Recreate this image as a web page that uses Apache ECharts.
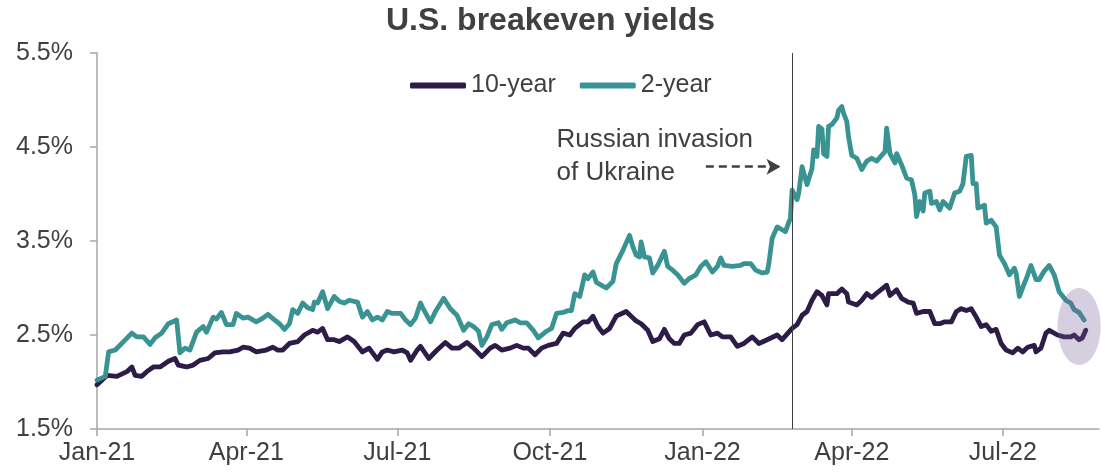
<!DOCTYPE html>
<html><head><meta charset="utf-8">
<script src="https://cdn.jsdelivr.net/npm/echarts@6/dist/echarts.min.js"></script>
<style>html,body{margin:0;padding:0;background:#fff}#c{width:1101px;height:474px}</style>
</head><body><div id="c"></div>
<script>
const tenYearDates = ['2021-01-01','2021-01-07','2021-01-13','2021-01-19','2021-01-22','2021-01-24','2021-01-28','2021-01-31','2021-02-04','2021-02-08','2021-02-13','2021-02-17','2021-02-19','2021-02-24','2021-02-28','2021-03-04','2021-03-09','2021-03-13','2021-03-18','2021-03-22','2021-03-27','2021-03-30','2021-04-03','2021-04-07','2021-04-13','2021-04-17','2021-04-20','2021-04-23','2021-04-27','2021-05-02','2021-05-06','2021-05-11','2021-05-14','2021-05-17','2021-05-20','2021-05-24','2021-05-27','2021-06-01','2021-06-05','2021-06-10','2021-06-14','2021-06-19','2021-06-22','2021-06-25','2021-06-29','2021-07-04','2021-07-07','2021-07-09','2021-07-13','2021-07-15','2021-07-20','2021-07-25','2021-07-30','2021-08-03','2021-08-07','2021-08-12','2021-08-16','2021-08-21','2021-08-26','2021-08-29','2021-09-02','2021-09-07','2021-09-11','2021-09-15','2021-09-18','2021-09-22','2021-09-26','2021-09-30','2021-10-05','2021-10-09','2021-10-13','2021-10-16','2021-10-21','2021-10-24','2021-10-27','2021-10-30','2021-11-02','2021-11-06','2021-11-10','2021-11-16','2021-11-19','2021-11-22','2021-11-25','2021-11-29','2021-12-02','2021-12-06','2021-12-09','2021-12-12','2021-12-15','2021-12-18','2021-12-21','2021-12-25','2021-12-29','2022-01-02','2022-01-06','2022-01-10','2022-01-13','2022-01-18','2022-01-22','2022-01-26','2022-01-31','2022-02-04','2022-02-09','2022-02-15','2022-02-18','2022-02-24','2022-02-27','2022-03-02','2022-03-05','2022-03-08','2022-03-11','2022-03-14','2022-03-17','2022-03-18','2022-03-23','2022-03-26','2022-03-29','2022-03-30','2022-04-04','2022-04-07','2022-04-10','2022-04-13','2022-04-17','2022-04-22','2022-04-24','2022-04-28','2022-05-01','2022-05-05','2022-05-08','2022-05-10','2022-05-14','2022-05-18','2022-05-21','2022-05-24','2022-05-27','2022-05-31','2022-06-03','2022-06-06','2022-06-09','2022-06-12','2022-06-15','2022-06-18','2022-06-21','2022-06-24','2022-06-27','2022-06-30','2022-07-03','2022-07-07','2022-07-10','2022-07-13','2022-07-16','2022-07-20','2022-07-21','2022-07-24','2022-07-27','2022-07-29','2022-08-03','2022-08-07','2022-08-11','2022-08-13','2022-08-16','2022-08-18','2022-08-20'];
const tenYearValues = [1.97,2.07,2.06,2.11,2.16,2.07,2.06,2.11,2.16,2.16,2.22,2.25,2.18,2.16,2.18,2.23,2.25,2.31,2.32,2.32,2.34,2.37,2.36,2.32,2.34,2.37,2.34,2.34,2.41,2.43,2.50,2.55,2.53,2.57,2.45,2.45,2.43,2.48,2.43,2.32,2.36,2.24,2.32,2.34,2.32,2.34,2.31,2.23,2.34,2.38,2.25,2.34,2.42,2.36,2.36,2.42,2.36,2.27,2.36,2.39,2.34,2.36,2.39,2.36,2.36,2.29,2.36,2.39,2.41,2.52,2.50,2.57,2.64,2.64,2.70,2.59,2.52,2.57,2.70,2.75,2.70,2.65,2.62,2.55,2.43,2.46,2.56,2.46,2.41,2.41,2.50,2.52,2.61,2.64,2.50,2.52,2.48,2.48,2.38,2.41,2.48,2.41,2.45,2.50,2.45,2.57,2.61,2.71,2.75,2.87,2.96,2.92,2.82,2.94,2.94,2.99,2.94,2.85,2.82,2.87,2.94,2.90,2.96,3.03,2.92,2.98,2.89,2.85,2.84,2.73,2.75,2.75,2.62,2.62,2.64,2.64,2.75,2.78,2.76,2.78,2.69,2.59,2.61,2.54,2.56,2.41,2.34,2.31,2.36,2.32,2.37,2.39,2.32,2.36,2.52,2.55,2.50,2.48,2.48,2.50,2.45,2.47,2.55];

const twoYearDates = ['2021-01-01','2021-01-06','2021-01-08','2021-01-12','2021-01-17','2021-01-22','2021-01-25','2021-01-29','2021-02-02','2021-02-05','2021-02-09','2021-02-13','2021-02-18','2021-02-20','2021-02-23','2021-02-26','2021-03-02','2021-03-06','2021-03-08','2021-03-12','2021-03-14','2021-03-17','2021-03-20','2021-03-24','2021-03-26','2021-03-30','2021-04-02','2021-04-07','2021-04-11','2021-04-14','2021-04-18','2021-04-21','2021-04-24','2021-04-27','2021-04-29','2021-05-02','2021-05-05','2021-05-08','2021-05-11','2021-05-12','2021-05-14','2021-05-17','2021-05-20','2021-05-24','2021-05-27','2021-05-30','2021-06-02','2021-06-07','2021-06-10','2021-06-13','2021-06-16','2021-06-19','2021-06-22','2021-06-25','2021-06-28','2021-07-03','2021-07-06','2021-07-09','2021-07-12','2021-07-15','2021-07-16','2021-07-21','2021-07-24','2021-07-29','2021-08-02','2021-08-06','2021-08-10','2021-08-13','2021-08-16','2021-08-19','2021-08-21','2021-08-24','2021-08-27','2021-08-31','2021-09-02','2021-09-05','2021-09-10','2021-09-13','2021-09-17','2021-09-21','2021-09-24','2021-09-29','2021-10-02','2021-10-05','2021-10-09','2021-10-12','2021-10-14','2021-10-16','2021-10-19','2021-10-22','2021-10-24','2021-10-27','2021-10-29','2021-11-02','2021-11-04','2021-11-08','2021-11-10','2021-11-14','2021-11-18','2021-11-20','2021-11-22','2021-11-24','2021-11-25','2021-11-27','2021-11-30','2021-12-02','2021-12-05','2021-12-09','2021-12-11','2021-12-14','2021-12-17','2021-12-21','2021-12-24','2021-12-28','2021-12-31','2022-01-03','2022-01-07','2022-01-10','2022-01-12','2022-01-14','2022-01-19','2022-01-24','2022-01-26','2022-01-30','2022-02-02','2022-02-06','2022-02-09','2022-02-10','2022-02-12','2022-02-15','2022-02-18','2022-02-20','2022-02-22','2022-02-23','2022-02-24','2022-02-27','2022-02-28','2022-03-02','2022-03-05','2022-03-08','2022-03-09','2022-03-11','2022-03-12','2022-03-14','2022-03-15','2022-03-17','2022-03-18','2022-03-20','2022-03-23','2022-03-24','2022-03-26','2022-03-27','2022-03-29','2022-03-30','2022-04-01','2022-04-04','2022-04-07','2022-04-10','2022-04-13','2022-04-16','2022-04-19','2022-04-21','2022-04-22','2022-04-24','2022-04-27','2022-04-28','2022-05-01','2022-05-04','2022-05-07','2022-05-09','2022-05-10','2022-05-12','2022-05-14','2022-05-15','2022-05-18','2022-05-19','2022-05-22','2022-05-24','2022-05-26','2022-05-30','2022-06-02','2022-06-05','2022-06-07','2022-06-09','2022-06-12','2022-06-13','2022-06-15','2022-06-16','2022-06-20','2022-06-21','2022-06-24','2022-06-27','2022-06-29','2022-07-02','2022-07-05','2022-07-08','2022-07-09','2022-07-11','2022-07-14','2022-07-15','2022-07-18','2022-07-21','2022-07-23','2022-07-26','2022-07-29','2022-08-01','2022-08-04','2022-08-08','2022-08-11','2022-08-13','2022-08-16','2022-08-19'];
const twoYearValues = [2.02,2.06,2.32,2.34,2.43,2.52,2.48,2.48,2.40,2.47,2.52,2.62,2.66,2.31,2.36,2.34,2.53,2.59,2.53,2.69,2.67,2.74,2.61,2.61,2.73,2.68,2.69,2.64,2.68,2.72,2.66,2.62,2.56,2.62,2.77,2.73,2.84,2.79,2.77,2.85,2.84,2.96,2.78,2.91,2.86,2.84,2.87,2.85,2.69,2.75,2.66,2.69,2.66,2.75,2.73,2.73,2.66,2.61,2.68,2.84,2.80,2.64,2.75,2.89,2.78,2.71,2.55,2.62,2.59,2.54,2.39,2.48,2.61,2.63,2.56,2.63,2.66,2.63,2.63,2.55,2.47,2.54,2.57,2.73,2.74,2.76,2.76,2.94,2.91,3.14,3.10,3.17,3.06,3.02,3.00,3.07,3.26,3.40,3.56,3.44,3.35,3.33,3.49,3.33,3.32,3.16,3.24,3.39,3.23,3.19,3.14,3.05,3.10,3.14,3.23,3.28,3.17,3.23,3.32,3.24,3.23,3.24,3.26,3.26,3.19,3.16,3.17,3.26,3.53,3.65,3.62,3.60,3.70,3.74,4.04,3.94,4.01,4.29,4.10,4.27,4.47,4.40,4.72,4.69,4.43,4.40,4.72,4.74,4.81,4.89,4.93,4.86,4.77,4.61,4.41,4.38,4.26,4.35,4.38,4.35,4.41,4.45,4.70,4.43,4.33,4.43,4.31,4.17,4.15,3.99,3.76,3.92,3.82,4.01,4.03,3.90,3.92,3.83,3.92,3.85,4.01,4.03,4.11,4.40,4.41,4.11,4.11,3.85,3.88,3.69,3.72,3.65,3.35,3.26,3.14,3.21,3.16,2.91,3.05,3.09,3.24,3.09,3.09,3.18,3.24,3.14,2.96,2.87,2.84,2.77,2.74,2.66];

const xTickDates = ['2021-01-01','2021-04-01','2021-07-01','2021-10-01','2022-01-01','2022-04-01','2022-07-01'];
const xTickLabels = ['Jan-21','Apr-21','Jul-21','Oct-21','Jan-22','Apr-22','Jul-22'];
const yTickValues = [1.5, 2.5, 3.5, 4.5, 5.5];
const seriesNames = ['10-year', '2-year'];
const invasionDate = '2022-02-24';
const annotationLines = ['Russian invasion', 'of Ukraine'];

const ts = d => Date.parse(d + 'T00:00:00Z');
const xTickTs = xTickDates.map(ts);
const FONT = '"Liberation Sans", Arial, sans-serif';
const TXT = '#404040';
const AX = '#a6a6a6';

const chart = echarts.init(document.getElementById('c'), null, {renderer: 'canvas'});

const option = {
  animation: false,
  backgroundColor: '#ffffff',
  title: {
    text: 'U.S. breakeven yields',
    left: 'center', top: 0, padding: [5, 0, 0, 10],
    textStyle: {fontFamily: FONT, fontSize: 32, fontWeight: 'bold', color: TXT}
  },
  legend: {
    data: seriesNames,
    left: 405, top: 68,
    icon: 'roundRect', itemWidth: 56, itemHeight: 6, itemGap: 24,
    textStyle: {fontFamily: FONT, fontSize: 25, color: TXT, padding: [0, 0, 0, 0]}
  },
  grid: {left: 97, right: 2, top: 53, bottom: 45, containLabel: false},
  xAxis: {
    type: 'value',
    min: ts('2021-01-01'), max: ts('2022-08-28'),
    splitLine: {show: false},
    axisLine: {show: true, lineStyle: {color: AX, width: 1.5}},
    axisTick: {show: true, length: 7, customValues: xTickTs, lineStyle: {color: AX, width: 1.5}},
    axisLabel: {
      customValues: xTickTs, margin: 12,
      fontFamily: FONT, fontSize: 25, color: TXT,
      formatter: v => { const i = xTickTs.indexOf(v); return i >= 0 ? xTickLabels[i] : ''; }
    }
  },
  yAxis: {
    type: 'value', min: 1.5, max: 5.5,
    splitLine: {show: false},
    axisLine: {show: true, lineStyle: {color: AX, width: 1.5}},
    axisTick: {show: true, length: 7, customValues: yTickValues, lineStyle: {color: AX, width: 1.5}},
    axisLabel: {
      customValues: yTickValues, margin: 24,
      fontFamily: FONT, fontSize: 25, color: TXT,
      formatter: v => v.toFixed(1) + '%'
    }
  },
  series: [
    {
      name: seriesNames[0], type: 'line', showSymbol: false, symbol: 'none',
      data: tenYearDates.map((d, i) => [ts(d), tenYearValues[i]]),
      itemStyle: {color: '#2d1b48'},
      lineStyle: {color: '#2d1b48', width: 4.8, cap: 'round', join: 'round'},
      z: 3,
      markLine: {
        silent: true, animation: false,
        symbol: ['none', 'none'],
        label: {show: false},
        data: [
          {xAxis: ts(invasionDate), lineStyle: {color: '#404040', width: 1, type: 'solid'}},
          [
            {coord: [ts('2022-01-03'), 4.29], symbol: 'none', lineStyle: {color: '#404040', width: 2.5, type: [8, 5]}},
            {coord: [ts('2022-02-17'), 4.29], symbol: 'arrow', symbolSize: [12, 14]}
          ]
        ]
      }
    },
    {
      name: seriesNames[1], type: 'line', showSymbol: false, symbol: 'none',
      data: twoYearDates.map((d, i) => [ts(d), twoYearValues[i]]),
      itemStyle: {color: '#3a9393'},
      lineStyle: {color: '#3a9393', width: 4.8, cap: 'round', join: 'round'},
      z: 4
    }
  ]
};
chart.setOption(option);

function placeAnnotations() {
  const px = (d, v) => chart.convertToPixel({gridIndex: 0}, [ts(d), v]);
  const t1 = px('2021-10-05', 4.58);
  const t2 = px('2021-10-05', 4.23);
  const c = px('2022-08-16', 2.59);
  const e = px('2022-08-29', 2.18);
  const font = '26px ' + FONT;
  chart.setOption({
    graphic: [
      {type: 'text', x: t1[0], y: t1[1], z: 50,
       style: {text: annotationLines[0], fill: TXT, font: font, verticalAlign: 'middle', align: 'left'}},
      {type: 'text', x: t2[0], y: t2[1], z: 50,
       style: {text: annotationLines[1], fill: TXT, font: font, verticalAlign: 'middle', align: 'left'}},
      {type: 'ellipse', z: 100,
       shape: {cx: c[0], cy: c[1], rx: Math.abs(e[0] - c[0]), ry: Math.abs(e[1] - c[1])},
       style: {fill: 'rgba(115,95,152,0.3)'}}
    ]
  });
}
placeAnnotations();
</script>
</body></html>
